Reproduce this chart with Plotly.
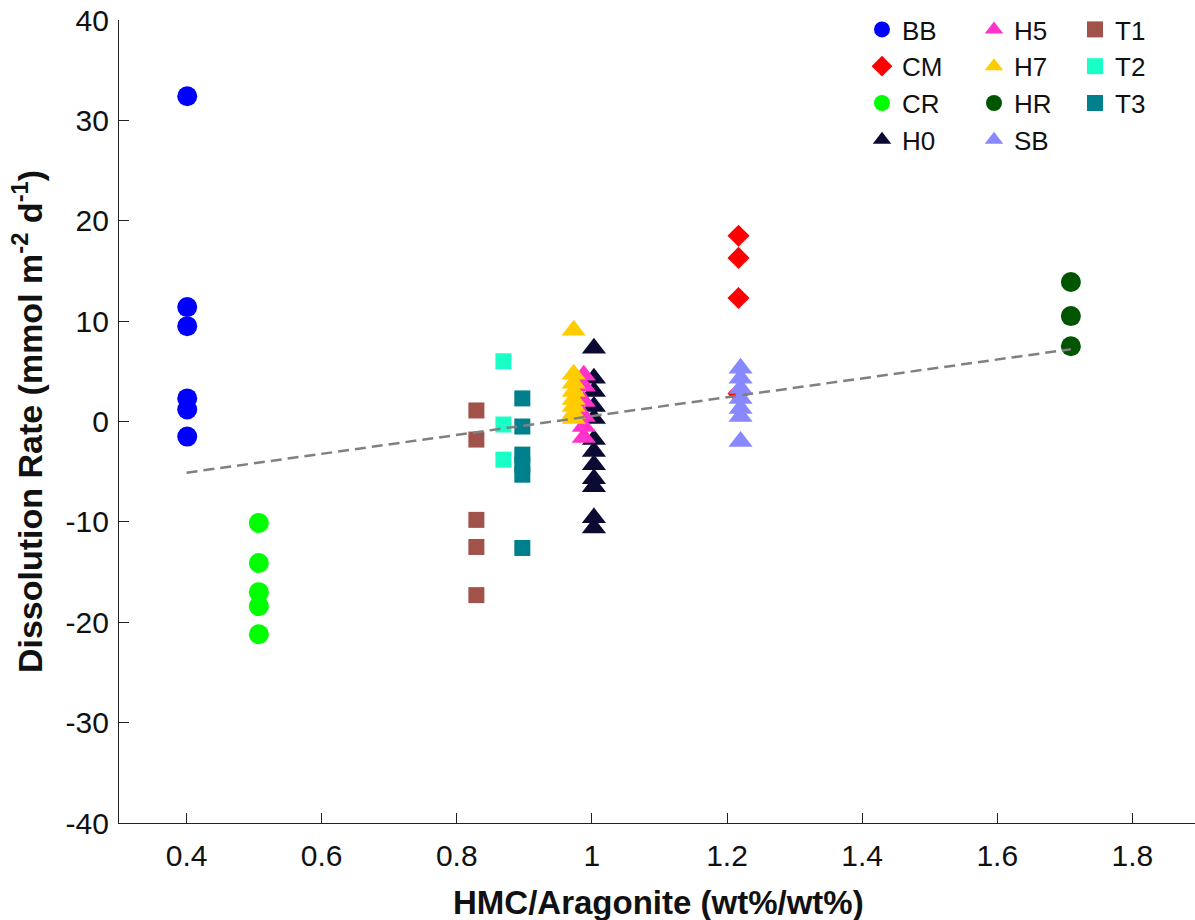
import plotly.graph_objects as go

# ---- data ----
bb_x = 0.401
bb_y = [32.4, 11.4, 9.5, 2.3, 1.2, -1.5]
cm_x = 1.217
cm_y = [18.5, 16.3, 12.3, 2.8]
cr_x = 0.507
cr_y = [-10.1, -14.1, -17.0, -18.4, -21.2]
h0_x = 1.003
h0_y = [7.3, 4.3, 3.0, 1.5, 0.3, -1.8, -3.0, -4.3, -5.7, -6.5, -9.6, -10.6]
h5_x = 0.988
h5_y = [4.6, 3.5, 2.0, 0.5, -0.5, -1.6]
h7_x = 0.973
h7_y = [9.1, 4.7, 3.8, 3.0, 2.2, 1.5, 0.8, 0.3]
hr_x = 1.709
hr_y = [13.9, 10.5, 7.5]
sb_x = 1.22
sb_y = [5.3, 4.3, 3.3, 2.3, 1.3, 0.5, -2.0]
t1_x = 0.829
t1_y = [1.1, -1.8, -9.8, -12.5, -17.3]
t2_x = 0.869
t2_y = [6.0, -0.3, -3.8]
t3_x = 0.897
t3_y = [2.3, -0.5, -3.3, -4.3, -5.3, -12.6]

trend_x = [0.4, 1.709]
trend_y = [-5.1, 7.2]

x_tick_vals = [0.4, 0.6, 0.8, 1.0, 1.2, 1.4, 1.6, 1.8]
x_tick_labels = ["0.4", "0.6", "0.8", "1", "1.2", "1.4", "1.6", "1.8"]
y_tick_vals = [-40, -30, -20, -10, 0, 10, 20, 30, 40]
y_tick_labels = ["-40", "-30", "-20", "-10", "0", "10", "20", "30", "40"]

x_title = "<b>HMC/Aragonite (wt%/wt%)</b>"
y_title = "<b>Dissolution Rate (mmol m<sup>-2</sup> d<sup>-1</sup>)</b>"

series = [
    ("BB", bb_x, bb_y, "circle", 20, "#0000FF", "legend"),
    ("CM", cm_x, cm_y, "diamond", 17, "#FF0000", "legend"),
    ("CR", cr_x, cr_y, "circle", 20, "#00FF00", "legend"),
    ("H0", h0_x, h0_y, "triangle-up", 21, "#0A0A33", "legend"),
    ("H5", h5_x, h5_y, "triangle-up", 21, "#FF33CC", "legend2"),
    ("H7", h7_x, h7_y, "triangle-up", 21, "#FFCC00", "legend2"),
    ("HR", hr_x, hr_y, "circle", 20, "#005500", "legend2"),
    ("SB", sb_x, sb_y, "triangle-up", 21, "#8888FF", "legend2"),
    ("T1", t1_x, t1_y, "square", 16, "#A0524B", "legend3"),
    ("T2", t2_x, t2_y, "square", 16, "#1AFFC6", "legend3"),
    ("T3", t3_x, t3_y, "square", 16, "#007F8C", "legend3"),
]

FONT = "Liberation Sans, Arial, Helvetica, sans-serif"
TXT = "#111111"

fig = go.Figure()
for name, x, ys, sym, size, col, leg in series:
    fig.add_trace(go.Scatter(
        x=[x] * len(ys), y=ys, mode="markers", name=name, legend=leg,
        marker=dict(symbol=sym, size=size, color=col, line=dict(width=0)),
    ))

fig.add_trace(go.Scatter(
    x=trend_x, y=trend_y, mode="lines", showlegend=False,
    line=dict(color="#808080", width=2.5, dash="11px,6px"),
))

W, H = 1195, 920
L, T, R = 119, 20, 0
B = H - 823
pw = W - L - R
ph = H - T - B


def px_x(p):
    return (p - L) / pw


def px_y(p):
    return (H - B - p) / ph


leg_common = dict(
    font=dict(family=FONT, size=26, color=TXT),
    bgcolor="rgba(0,0,0,0)", borderwidth=0,
    xanchor="left", yanchor="top", tracegroupgap=0,
    itemsizing="trace",
)

fig.update_layout(
    width=W, height=H,
    margin=dict(l=L, r=R, t=T, b=B, autoexpand=False),
    paper_bgcolor="white", plot_bgcolor="white",
    font=dict(family=FONT, size=30, color=TXT),
    legend=dict(x=px_x(862), y=px_y(6), **leg_common),
    legend2=dict(x=px_x(974), y=px_y(6), **leg_common),
    legend3=dict(x=px_x(1075), y=px_y(6), **leg_common),
    xaxis=dict(
        range=[0.3, 1.8927], tickvals=x_tick_vals, ticktext=x_tick_labels,
        ticks="inside", ticklen=10, tickwidth=1.3, tickcolor="#222222",
        showline=True, linecolor="#222222", linewidth=1.3, mirror=False,
        showgrid=False, zeroline=False, ticklabelstandoff=6,
        ticklabeloverflow="allow", automargin=False,
        tickfont=dict(family=FONT, size=30, color=TXT),
    ),
    yaxis=dict(
        range=[-40, 40], tickvals=y_tick_vals, ticktext=y_tick_labels,
        ticks="inside", ticklen=10, tickwidth=1.3, tickcolor="#222222",
        showline=True, linecolor="#222222", linewidth=1.3, mirror=False,
        showgrid=False, zeroline=False, ticklabelstandoff=3,
        ticklabeloverflow="allow", automargin=False,
        tickfont=dict(family=FONT, size=30, color=TXT),
        title=dict(text=y_title, standoff=12,
                   font=dict(family=FONT, size=34, color=TXT)),
    ),
    annotations=[dict(
        text=x_title, xref="paper", yref="paper",
        x=px_x(658), y=px_y(902), xanchor="center", yanchor="middle",
        showarrow=False, font=dict(family=FONT, size=33, color=TXT),
    )],
)

fig.write_html(
    "out.html",
    config={"displayModeBar": False},
    post_script="document.body.style.margin='0';document.body.style.overflow='hidden';",
)
